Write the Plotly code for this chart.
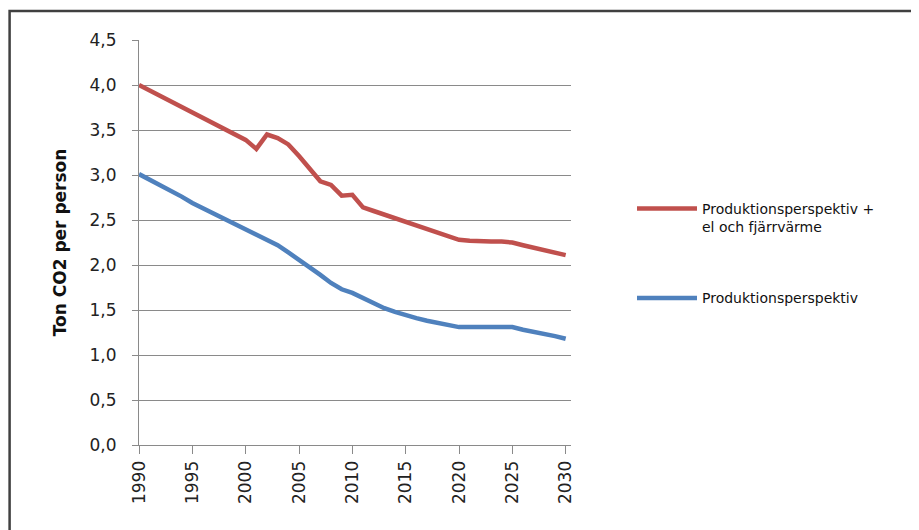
import plotly.graph_objects as go

years = list(range(1990, 2031))

prod_el = [4.00, 3.94, 3.88, 3.82, 3.75, 3.69, 3.63, 3.57, 3.51, 3.45,
           3.39, 3.29, 3.45, 3.41, 3.34, 3.21, 3.07, 2.93, 2.89, 2.77,
           2.78, 2.64, 2.60, 2.56, 2.52, 2.48, 2.44, 2.40, 2.36, 2.32,
           2.28, 2.27, 2.26, 2.26, 2.26, 2.25, 2.22, 2.19, 2.17, 2.14, 2.11]

prod = [3.01, 2.95, 2.88, 2.82, 2.76, 2.69, 2.63, 2.57, 2.51, 2.45,
        2.39, 2.33, 2.28, 2.22, 2.14, 2.06, 1.98, 1.89, 1.80, 1.73,
        1.69, 1.63, 1.57, 1.52, 1.48, 1.44, 1.41, 1.38, 1.36, 1.33,
        1.31, 1.31, 1.31, 1.31, 1.31, 1.31, 1.28, 1.26, 1.23, 1.21, 1.18]

series_names = ["Produktionsperspektiv +<br>el och fjärrvärme", "Produktionsperspektiv"]
series_colors = ["#C0504D", "#4F81BD"]
x_ticks = [1990, 1995, 2000, 2005, 2010, 2015, 2020, 2025, 2030]
y_title = "Ton CO2 per person"

fig = go.Figure()
for name, vals, col, grp in zip(series_names, [prod_el, prod], series_colors, ["a", "b"]):
    fig.add_trace(go.Scatter(x=years, y=vals, mode="lines", name=name, legendgroup=grp,
                             line=dict(color=col, width=4.5)))

# the page adds an 8 px body margin; figure coordinates = screen - 8
OFF = 8
W, H = 919, 530
L, R, T, B = 139 - OFF, 919 - 571 + OFF, 40 - OFF, 530 - 445 + OFF
pw, ph = W - L - R, H - T - B

def px_x(p):
    return (p - OFF - L) / pw

def px_y(p):
    return (H - B - (p - OFF)) / ph

fig.update_layout(
    width=W, height=H,
    margin=dict(l=L, r=R, t=T, b=B),
    paper_bgcolor="white", plot_bgcolor="white",
    separators=", ",
    font=dict(family="DejaVu Sans", color="#222222"),
    showlegend=True,
    legend=dict(x=px_x(632), y=px_y(193), xanchor="left", yanchor="top",
                font=dict(family="DejaVu Sans", size=14, color="#111111"),
                valign="top", tracegroupgap=50, itemwidth=60,
                bgcolor="rgba(0,0,0,0)"),
    shapes=[dict(type="rect", xref="paper", yref="paper",
                 x0=px_x(9.6), x1=px_x(935), y0=px_y(545), y1=px_y(11),
                 line=dict(color="#404040", width=2.5), fillcolor="rgba(0,0,0,0)",
                 layer="below")],
)

fig.update_xaxes(range=[1990, 2030.5], tickvals=x_ticks, tickangle=-90,
                 showgrid=False, zeroline=False, showline=True,
                 linecolor="#8a8a8a", linewidth=1,
                 ticks="outside", ticklen=8, tickcolor="#8a8a8a",
                 tickfont=dict(family="DejaVu Sans", size=17, color="#222222"))
fig.update_yaxes(range=[0, 4.5], dtick=0.5, tick0=0, tickformat=".1f",
                 showgrid=True, gridcolor="#8a8a8a", gridwidth=1,
                 zeroline=False, showline=True, linecolor="#8a8a8a", linewidth=1,
                 ticks="outside", ticklen=6, tickcolor="#8a8a8a",
                 ticklabelstandoff=12,
                 tickfont=dict(family="DejaVu Sans", size=17, color="#222222"),
                 title=dict(text="<b>" + y_title + "</b>", standoff=18,
                            font=dict(family="DejaVu Sans", size=17, color="#111111")))

fig.write_html("out.html")
